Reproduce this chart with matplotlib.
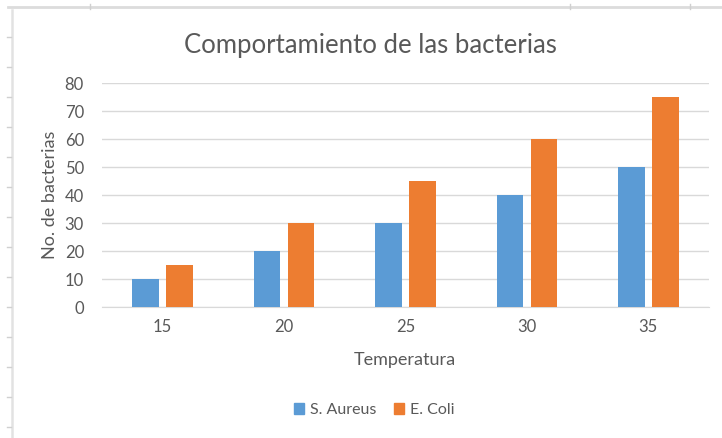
import numpy as np
import matplotlib
matplotlib.use("Agg")
import matplotlib.pyplot as plt
from matplotlib.lines import Line2D
from matplotlib.patches import Patch

temps = ["15", "20", "25", "30", "35"]
s_aureus = [10, 20, 30, 40, 50]
e_coli = [15, 30, 45, 60, 75]
y_ticks = [0, 10, 20, 30, 40, 50, 60, 70, 80]

BLUE = "#5b9bd5"
ORANGE = "#ed7d31"
TEXT = "#595959"
GRID = "#d9d9d9"

plt.rcParams["font.family"] = ["Lato", "DejaVu Sans"]

W, H = 722, 438
fig = plt.figure(figsize=(W / 100, H / 100), dpi=100)
fig.patch.set_facecolor("white")


def fx(px):
    return px / W


def fy(py):
    return 1 - py / H


# sheet frame behind the chart
fig.add_artist(Line2D([fx(8), 1], [fy(6.5), fy(6.5)], color="#dcdcdc", lw=2))
fig.add_artist(Line2D([fx(11.5), fx(11.5)], [fy(10), 0], color="#e2e2e2", lw=1.8))
for xp in [90, 570, 690]:
    fig.add_artist(Line2D([fx(xp), fx(xp)], [fy(4), fy(9)], color="#d0d0d0", lw=1))
for yp in range(37, 438, 30):
    fig.add_artist(Line2D([fx(7), fx(11)], [fy(yp), fy(yp)], color="#d0d0d0", lw=1))

ax = fig.add_axes([fx(102), fy(307), fx(709) - fx(102), fy(83) - fy(307)])
x = np.arange(len(temps))
bw = 0.22
gap = 0.06
ax.bar(x - (bw + gap) / 2, s_aureus, bw, color=BLUE, label="S. Aureus", zorder=3)
ax.bar(x + (bw + gap) / 2, e_coli, bw, color=ORANGE, label="E. Coli", zorder=3)

ax.set_xlim(-0.5, len(temps) - 0.5)
ax.set_ylim(0, 80)
ax.set_yticks(y_ticks)
ax.set_xticks(x)
ax.set_xticklabels(temps)
ax.yaxis.grid(True, color=GRID, lw=1, zorder=0)
for s in ["top", "right", "left"]:
    ax.spines[s].set_visible(False)
ax.spines["bottom"].set_color(GRID)
ax.tick_params(axis="both", length=0, colors=TEXT, labelsize=12)
ax.tick_params(axis="y", pad=13)
ax.tick_params(axis="x", pad=9)

fig.text(fx(370), fy(45), "Comportamiento de las bacterias", ha="center", va="center",
         fontsize=18.5, color=TEXT)
fig.text(fx(50), fy(195), "No. de bacterias", ha="center", va="center", rotation=90,
         fontsize=13, color=TEXT)
fig.text(fx(405), fy(360), "Temperatura", ha="center", va="center",
         fontsize=13, color=TEXT)

handles = [Patch(color=BLUE), Patch(color=ORANGE)]
fig.legend(handles, ["S. Aureus", "E. Coli"], loc="center", bbox_to_anchor=(fx(374), fy(410)),
           ncol=2, frameon=False, fontsize=11.5, labelcolor=TEXT, handlelength=0.65,
           handleheight=0.65, handletextpad=0.35, columnspacing=1.1)

fig.savefig("out.png", dpi=100)
